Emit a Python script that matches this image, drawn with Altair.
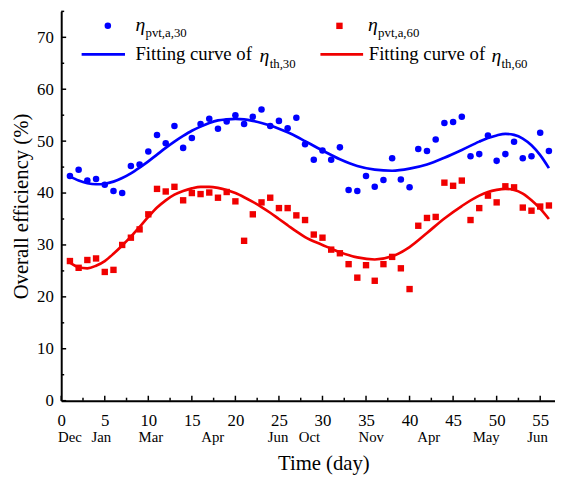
import altair as alt
import pandas as pd

# ---------------- data ----------------
days = list(range(1, 57))
eta_30 = [43.3, 44.5, 42.4, 42.7, 41.6, 40.4, 40.0, 45.2, 45.5, 48.0, 51.2, 49.6, 52.9, 48.7,
          50.6, 53.3, 54.3, 52.4, 53.8, 55.0, 53.3, 54.7, 56.1, 52.9, 53.9, 52.5, 54.5, 49.4,
          46.4, 48.2, 46.4, 48.8, 40.6, 40.4, 43.3, 41.2, 42.5, 46.7, 42.6, 41.1, 48.5, 48.1,
          50.3, 53.5, 53.7, 54.7, 47.1, 47.5, 51.1, 46.2, 47.5, 49.9, 46.7, 47.1, 51.6, 48.1]
eta_60 = [26.9, 25.6, 27.1, 27.4, 24.8, 25.2, 30.0, 31.4, 33.0, 35.9, 40.8, 40.3, 41.2, 38.6,
          40.0, 39.8, 40.1, 39.1, 40.2, 38.4, 30.8, 35.9, 38.2, 39.1, 37.1, 37.1, 35.7, 34.8,
          32.0, 31.4, 29.1, 28.4, 26.3, 23.7, 26.1, 23.1, 26.3, 27.7, 25.5, 21.5, 33.7, 35.2,
          35.4, 42.0, 41.4, 42.4, 34.8, 37.1, 39.5, 38.2, 41.3, 41.1, 37.2, 36.6, 37.4, 37.6]

fit_days = [1, 2, 3, 4, 5, 6, 7, 8, 9, 10, 11, 12, 13, 14, 15, 16, 17, 18, 19, 20, 21, 22, 23, 24,
            25, 26, 27, 28, 30, 32, 34, 36, 38, 40, 42, 44, 46, 48, 49, 50, 51, 52, 53, 54, 55, 56]
fit_30 = [43.2, 42.4, 41.9, 41.7, 41.8, 42.2, 42.9, 43.8, 44.9, 46.1, 47.4, 48.7, 49.9, 51.0,
          52.0, 52.8, 53.5, 54.0, 54.2, 54.3, 54.2, 53.9, 53.5, 53.0, 52.4, 51.7, 50.9, 50.0,
          48.2, 46.5, 45.2, 44.5, 44.3, 44.7, 45.5, 46.8, 48.3, 49.9, 50.6, 51.1, 51.4, 51.2,
          50.5, 49.2, 47.3, 44.8]
fit_60 = [26.6, 25.7, 25.5, 26.0, 26.9, 28.3, 29.9, 31.6, 33.5, 35.4, 37.2, 38.6, 39.7, 40.4,
          40.9, 41.2, 41.2, 41.0, 40.6, 40.0, 39.2, 38.3, 37.3, 36.2, 35.0, 33.8, 32.6, 31.5,
          30.0, 28.6, 27.6, 27.2, 27.8, 29.6, 32.3, 35.1, 37.5, 39.5, 40.2, 40.6, 40.8, 40.6,
          39.9, 38.6, 37.0, 35.0]

x_major = [0, 5, 10, 15, 20, 25, 30, 35, 40, 45, 50, 55]
x_minor = [2.5, 7.5, 12.5, 17.5, 22.5, 27.5, 32.5, 37.5, 42.5, 47.5, 52.5]
y_major = [0, 10, 20, 30, 40, 50, 60, 70]
y_minor = [5, 15, 25, 35, 45, 55, 65, 75]

month_names = ["Dec", "Jan", "Mar", "Apr", "Jun", "Oct", "Nov", "Apr", "May", "Jun"]
month_pos = [1.0, 4.6, 10.3, 17.4, 24.9, 28.5, 35.6, 42.2, 48.8, 54.7]

# ---------------- styling ----------------
W, H = 501, 395
FONT = "Liberation Serif"
BLUE = "#0000ff"
RED = "#f00000"

xs = alt.Scale(domain=[0, 56.7], nice=False, zero=False)
ys = alt.Scale(domain=[0, 75], nice=False)

pts = pd.DataFrame({"day": days, "e30": eta_30, "e60": eta_60})
fit = pd.DataFrame({"day": fit_days, "f30": fit_30, "f60": fit_60})
one = pd.DataFrame({"k": [0]})

x_axis = alt.Axis(values=x_major, format="d", title="Time (day)", ticks=False, grid=False,
                  domainColor="black", domainWidth=2, labelFont=FONT, labelFontSize=17,
                  labelColor="black", labelPadding=12, labelFlush=False, labelOverlap=False,
                  titleFont=FONT, titleFontSize=21, titleFontWeight="normal",
                  titleColor="black", titlePadding=25, titleX=266, titleAlign="center")
y_axis = alt.Axis(values=y_major, format="d", title="Overall efficiency (%)", ticks=False,
                  grid=False, domainColor="black", domainWidth=2, labelFont=FONT,
                  labelFontSize=17, labelColor="black", labelPadding=8, labelFlush=False,
                  titleFont=FONT, titleFontSize=21, titleFontWeight="normal",
                  titleColor="black", titlePadding=5)


def X(field):
    return alt.X(field, scale=xs, axis=x_axis)


def Y(field):
    return alt.Y(field, scale=ys, axis=y_axis)


blue_pts = alt.Chart(pts).mark_point(shape="circle", filled=True, size=44, color=BLUE,
                                     opacity=1, clip=False).encode(x=X("day:Q"), y=Y("e30:Q"))
red_pts = alt.Chart(pts).mark_square(size=42, color=RED, opacity=1, clip=False).encode(
    x=X("day:Q"), y=Y("e60:Q"))
blue_fit = alt.Chart(fit).mark_line(color=BLUE, strokeWidth=2.7, interpolate="monotone").encode(
    x=X("day:Q"), y=Y("f30:Q"))
red_fit = alt.Chart(fit).mark_line(color=RED, strokeWidth=2.7, interpolate="monotone").encode(
    x=X("day:Q"), y=Y("f60:Q"))


# inward ticks
def xticks(vals, length):
    return alt.Chart(pd.DataFrame({"v": vals})).mark_rule(color="black", strokeWidth=1.5).encode(
        x=X("v:Q"), y=alt.value(H), y2=alt.value(H - length))


def yticks(vals, length):
    return alt.Chart(pd.DataFrame({"v": vals})).mark_rule(color="black", strokeWidth=1.5).encode(
        y=Y("v:Q"), x=alt.value(0), x2=alt.value(length))


months = alt.Chart(pd.DataFrame({"name": month_names, "pos": month_pos})).mark_text(
    font=FONT, fontSize=15, baseline="middle", align="center", color="black").encode(
    x=X("pos:Q"), y=alt.value(H + 37), text="name:N")


# legend
def txt(s, x, y, size, italic=False):
    kw = dict(font=FONT, fontSize=size, baseline="alphabetic", align="left", color="black",
              text=s)
    if italic:
        kw["fontStyle"] = "italic"
    return alt.Chart(one).mark_text(**kw).encode(x=alt.value(x), y=alt.value(y))


leg = [
    alt.Chart(one).mark_point(shape="circle", filled=True, size=44, color=BLUE, opacity=1)
    .encode(x=alt.value(47.3), y=alt.value(14.7)),
    txt("η", 75.3, 20.3, 20, True), txt("pvt,a,30", 85.5, 26.3, 13),
    alt.Chart(one).mark_square(size=42, color=RED, opacity=1)
    .encode(x=alt.value(282.3), y=alt.value(14.7)),
    txt("η", 311.3, 20.3, 20, True), txt("pvt,a,60", 321.5, 26.3, 13),
    alt.Chart(one).mark_rule(color=BLUE, strokeWidth=2.7)
    .encode(x=alt.value(20.7), x2=alt.value(64.7), y=alt.value(43.7)),
    txt("Fitting curve of", 75.3, 49.3, 19), txt("η", 201.3, 51.5, 20, True),
    txt("th,30", 211.5, 57.5, 13),
    alt.Chart(one).mark_rule(color=RED, strokeWidth=2.7)
    .encode(x=alt.value(263), x2=alt.value(306.3), y=alt.value(43.7)),
    txt("Fitting curve of", 312, 49.3, 19), txt("η", 436.5, 51.5, 20, True),
    txt("th,60", 446.7, 57.5, 13),
]

chart = alt.layer(
    blue_fit, red_fit, blue_pts, red_pts,
    xticks(x_major, 5), xticks(x_minor, 3), yticks(y_major, 5), yticks(y_minor, 3),
    months, *leg,
).properties(
    width=W, height=H,
    autosize=alt.AutoSizeParams(type="none"),
    padding={"left": 54, "top": 0, "right": 0, "bottom": 72},
    background="white",
).configure_view(stroke=None)

chart.save("out.html", embed_options={"renderer": "svg", "actions": False})
